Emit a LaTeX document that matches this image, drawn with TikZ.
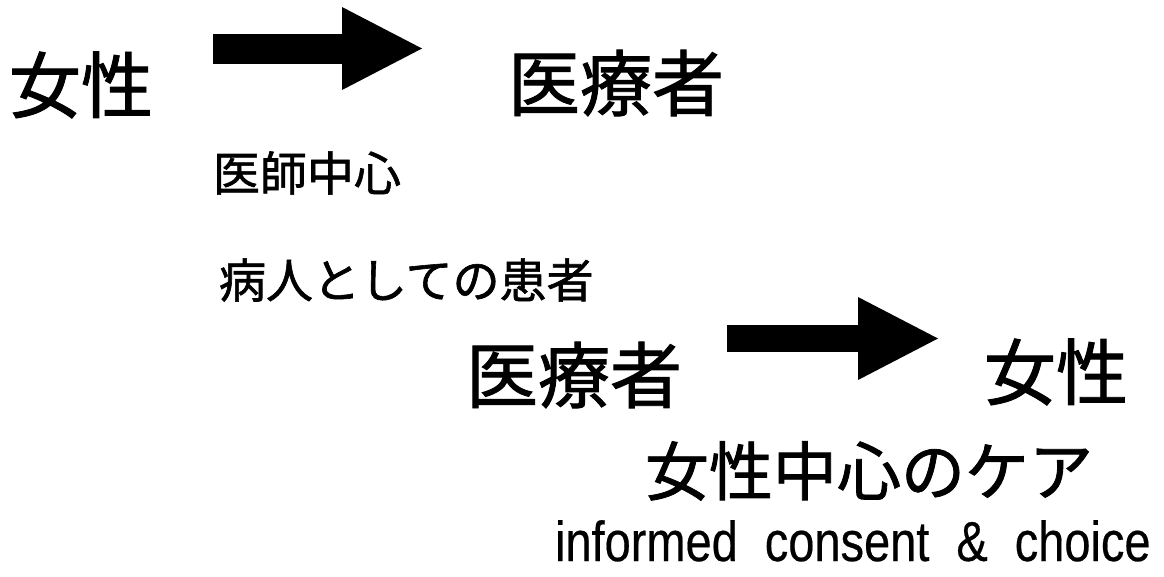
\documentclass[tikz,border=0pt]{standalone}
\usepackage{graphicx}
\usepackage{fontspec}
\setmainfont{Liberation Sans}[FakeBold=0.4]
\newfontfamily\jpfont{Noto Sans CJK JP}[FakeBold=1.3]
\usetikzlibrary{arrows.meta}
\begin{document}
\begin{tikzpicture}[x=1pt,y=-1pt,
  txt/.style={inner sep=0pt, outer sep=0pt, anchor=west, text=black},
  big/.style={txt, font=\jpfont\fontsize{72}{80}\selectfont},
  mid/.style={txt, font=\jpfont\fontsize{64}{72}\selectfont},
  small/.style={txt, font=\jpfont\fontsize{47}{54}\selectfont},
  latin/.style={inner sep=0pt, outer sep=0pt, anchor=base west, font=\fontsize{47}{54}\selectfont},
  bigarrow/.style={line width=#1, line cap=butt, -{Triangle[length=80pt,width=83pt,line width=0pt]}}
]
\fill[white] (0,0) rectangle (1164,576);
\useasboundingbox (0,0) rectangle (1164,576);

\node[big] (w1) at (9,85) {女性};
\node[big] (m1) at (508,83) {医療者};
\node[small] (t1) at (213,173) {医師中心};
\node[small] (t2) at (219,280) {病人としての患者};
\node[big] (m2) at (466,375) {医療者};
\node[big] (w2) at (984,372) {女性};
\node[mid] (t3) at (645,471) {女性中心のケア};
\node[latin] (t4) at (555,561) {\scalebox{1}[1.2]{informed\hspace{27pt}consent\hspace{27pt}\&\hspace{27pt}choice}};

\coordinate (a1s) at (213,48.5);
\coordinate (a1e) at (422,48.5);
\coordinate (a2s) at (727,338.5);
\coordinate (a2e) at (938,338.5);
\draw[bigarrow=30pt] (a1s) -- (a1e);
\draw[bigarrow=27pt] (a2s) -- (a2e);
\end{tikzpicture}
\end{document}
